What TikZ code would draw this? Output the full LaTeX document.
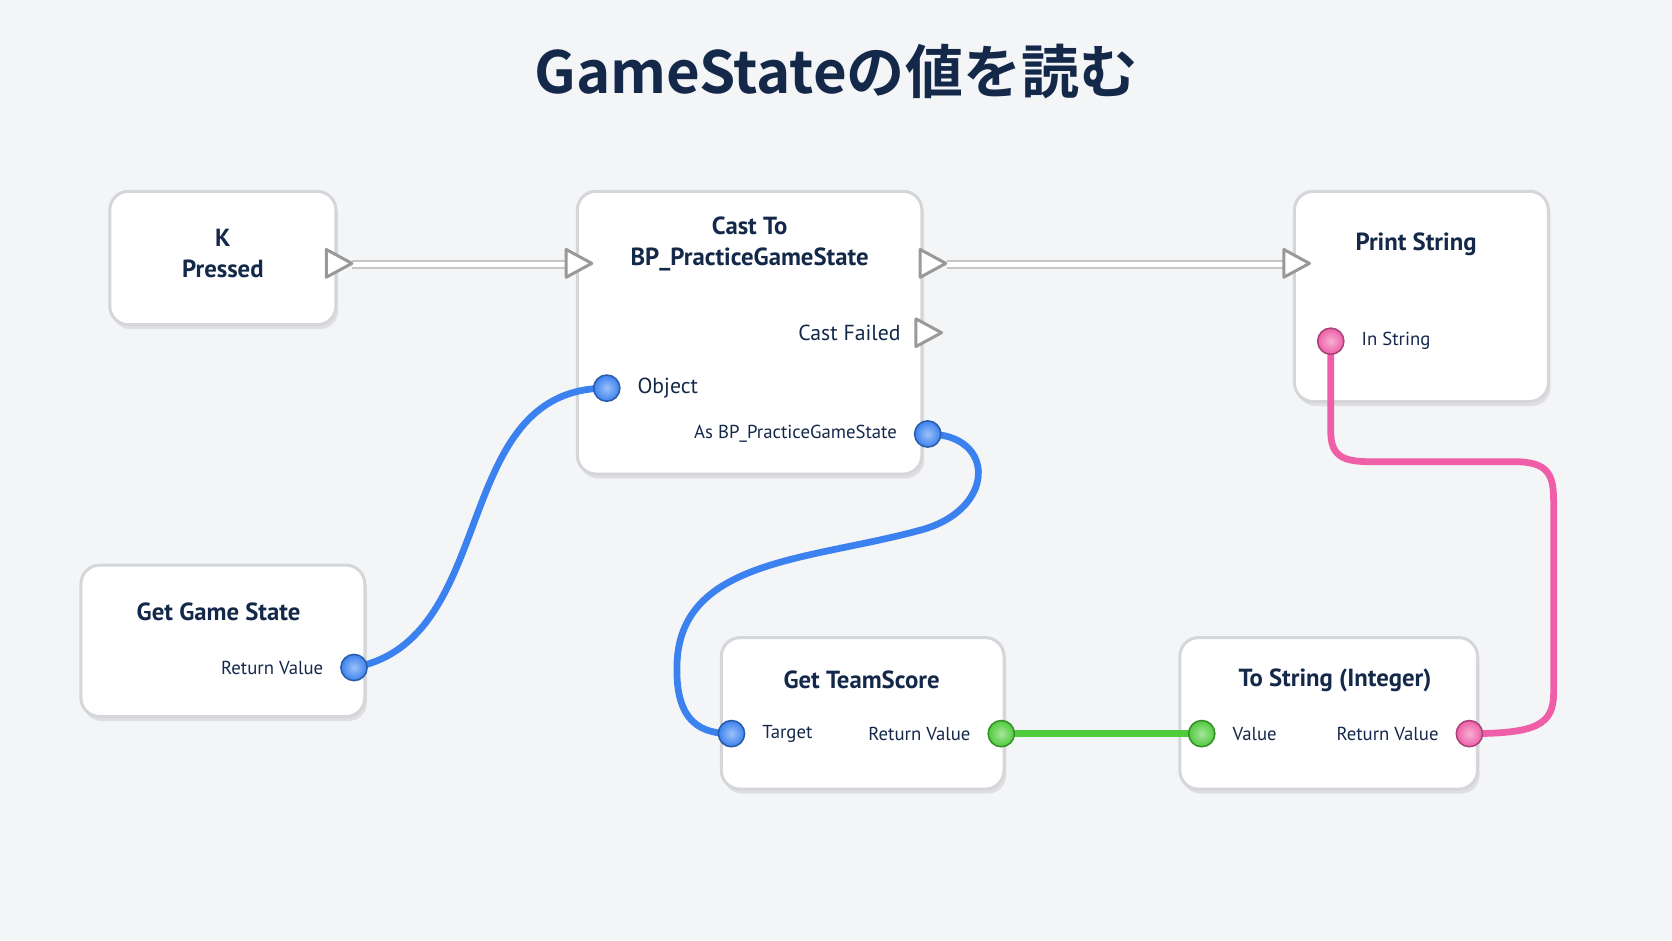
\documentclass[tikz,border=0pt]{standalone}
\usepackage{fontspec}
\setmainfont{PT Sans}
\newfontfamily\cjk{Noto Sans CJK JP}[BoldFont={* Bold}]
\usetikzlibrary{positioning, shadows, calc}
\definecolor{navy}{HTML}{14284A}
\definecolor{pinblue}{HTML}{3B82F0}
\definecolor{pingreen}{HTML}{4FCB3C}
\definecolor{pinpink}{HTML}{EE5FA8}
\definecolor{boxline}{HTML}{D4D6DA}
\definecolor{bg}{HTML}{F4F5F7}
\tikzset{
  bpnode/.style={draw=boxline, line width=0.8pt, fill=white, rounded corners=5pt,
    drop shadow={shadow xshift=0.6pt, shadow yshift=-1.2pt, opacity=0.18}},
  ntitle/.style={font=\bfseries\fontsize{6.6}{8.2}\selectfont, text=navy, align=center},
  plabel/.style={font=\fontsize{5}{6}\selectfont, text=navy},
  pin/.style={circle, draw=#1!70!black, line width=0.4pt, inner color=#1!50!white, outer color=#1, minimum size=7pt, inner sep=0pt},
  exec/.style={draw=gray!80, fill=white, line width=0.8pt, line join=round},
  wire/.style={line width=1.8pt, #1, line cap=round},
  execwire/.style={double=white, draw=gray!45, double distance=1.4pt, line width=0.5pt}
}
\newcommand{\execpin}[2]{% name, position
  \coordinate (#1) at #2;
  \draw[exec] ($(#1)+(-12,-13)$) -- ($(#1)+(12,0)$) -- ($(#1)+(-12,13)$) -- cycle;}
\begin{document}
\begin{tikzpicture}[x=0.01cm, y=-0.01cm]
\fill[bg] (0,0) rectangle (1568,882);
\useasboundingbox (0,0) rectangle (1568,882);

\node[font=\cjk\bfseries\fontsize{15.5}{19}\selectfont, text=navy] (title) at (784,67) {GameStateの値を読む};

% nodes
\node[bpnode, minimum width=2.12cm, minimum height=1.25cm] (kp) at (209,242) {};
\node[bpnode, minimum width=3.23cm, minimum height=2.65cm] (cast) at (703,312) {};
\node[bpnode, minimum width=2.38cm, minimum height=1.97cm] (print) at (1333,278) {};
\node[bpnode, minimum width=2.66cm, minimum height=1.42cm] (ggs) at (209,601) {};
\node[bpnode, minimum width=2.65cm, minimum height=1.42cm] (gts) at (809,669) {};
\node[bpnode, minimum width=2.79cm, minimum height=1.42cm] (tostr) at (1246,669) {};

% titles
\node[ntitle] (kpT) at (209,238) {K\\Pressed};
\node[ntitle] (castT) at (703,229) {Cast To\\BP\_PracticeGameState};
\node[ntitle] (printT) at (1328,229) {Print String};
\node[ntitle] (ggsT) at (205,574) {Get Game State};
\node[ntitle] (gtsT) at (808,638) {Get TeamScore};
\node[ntitle] (tostrT) at (1252,638) {To String (Integer)};

% exec wires
\draw[execwire] (330,248) -- (530,248);
\draw[execwire] (888,248) -- (1203,248);
\execpin{kpOut}{(318,247)}
\execpin{castIn}{(543,247)}
\execpin{castOut}{(875,247)}
\execpin{printIn}{(1216,247)}
\execpin{castFail}{(871,312)}
\node[plabel, left=4pt of castFail] (failL) {\fontsize{5.8}{7}\selectfont Cast Failed};

% data wires
\draw[wire=pinblue] (332,626) .. controls (470,600) and (420,364) .. (569,364);
\draw[wire=pinblue] (870,407) .. controls (935,407) and (935,480) .. (860,498)
  .. controls (760,525) and (640,525) .. (635,620) .. controls (632,680) and (660,688) .. (686,688);
\draw[wire=pingreen] (939,688) -- (1127,688);
\draw[wire=pinpink] (1248,320) -- (1248,405) .. controls (1248,428) and (1260,433) .. (1285,433)
  -- (1420,433) .. controls (1452,433) and (1457,445) .. (1457,470) -- (1457,650)
  .. controls (1457,680) and (1440,688) .. (1378,688);

% data pins
\node[pin=pinblue] (obj) at (569,364) {};
\node[plabel, right=1pt of obj] (objL) {\fontsize{5.8}{7}\selectfont Object};
\node[pin=pinblue] (asbp) at (870,407) {};
\node[plabel, left=1pt of asbp] (asbpL) {As BP\_PracticeGameState};
\node[pin=pinpink] (instr) at (1248,320) {};
\node[plabel, right=1pt of instr] (instrL) {In String};
\node[pin=pinblue] (ggsRet) at (332,626) {};
\node[plabel, left=1pt of ggsRet] (ggsRetL) {Return Value};
\node[pin=pinblue] (target) at (686,688) {};
\node[plabel, right=1pt of target] (targetL) {Target};
\node[pin=pingreen] (gtsRet) at (939,688) {};
\node[plabel, left=1pt of gtsRet] (gtsRetL) {Return Value};
\node[pin=pingreen] (val) at (1127,688) {};
\node[plabel, right=1pt of val] (valL) {Value};
\node[pin=pinpink] (tsRet) at (1378,688) {};
\node[plabel, left=1pt of tsRet] (tsRetL) {Return Value};
\end{tikzpicture}
\end{document}
